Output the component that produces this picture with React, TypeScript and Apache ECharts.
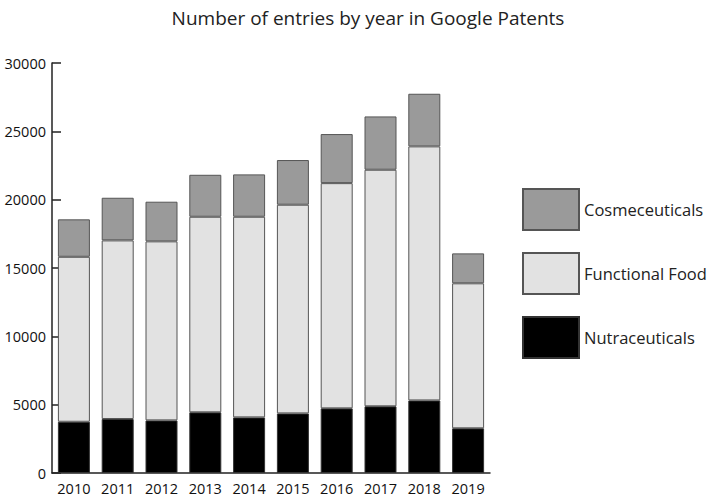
import React, { useEffect, useRef } from "react";
import * as echarts from "echarts";

const years = ["2010", "2011", "2012", "2013", "2014", "2015", "2016", "2017", "2018", "2019"];
const nutraceuticals = [3750, 3950, 3850, 4440, 4070, 4360, 4730, 4880, 5310, 3270];
const functionalFood = [12070, 13070, 13100, 14310, 14680, 15270, 16480, 17310, 18590, 10610];
const cosmeceuticals = [2740, 3120, 2900, 3070, 3100, 3270, 3590, 3900, 3850, 2190];

const FONT = "'Open Sans', sans-serif";

export default function App() {
  const ref = useRef<HTMLDivElement>(null);
  useEffect(() => {
    if (!ref.current) return;
    const chart = echarts.init(ref.current, null, { renderer: "svg" });
    const barBase = { type: "bar", stack: "total", barWidth: 32 };
    chart.setOption({
      animation: false,
      backgroundColor: "#ffffff",
      title: {
        text: "Number of entries by year in Google Patents",
        left: 363,
        textAlign: "center",
        top: 3,
        textStyle: { fontFamily: FONT, fontSize: 19, fontWeight: "normal", color: "#222" },
      },
      legend: {
        orient: "vertical",
        left: 522,
        top: 188,
        padding: 0,
        itemWidth: 56,
        itemHeight: 41,
        itemGap: 21,
        icon: "rect",
        data: ["Cosmeceuticals", "Functional Food", "Nutraceuticals"],
        textStyle: { fontFamily: FONT, fontSize: 16.5, color: "#222" },
      },
      grid: { left: 52, right: 218, top: 63, bottom: 27 },
      xAxis: {
        type: "category",
        data: years,
        axisLine: { lineStyle: { color: "#222", width: 1.5 } },
        axisTick: { inside: true, length: 10, lineStyle: { color: "#222", width: 1.5 } },
        axisLabel: { fontFamily: FONT, fontSize: 14.5, color: "#111", margin: 8 },
      },
      yAxis: {
        type: "value",
        min: 0,
        max: 30000,
        interval: 5000,
        splitLine: { show: false },
        axisLine: { show: true, lineStyle: { color: "#222", width: 1.5 } },
        axisTick: { show: true, inside: true, length: 9, lineStyle: { color: "#222", width: 1.5 } },
        axisLabel: {
          fontFamily: FONT,
          fontSize: 14.5,
          color: "#111",
          margin: 6,
          formatter: (v: number) => String(v),
        },
      },
      series: [
        {
          ...barBase,
          name: "Nutraceuticals",
          data: nutraceuticals,
          itemStyle: { color: "#000000", borderColor: "#333", borderWidth: 1 },
        },
        {
          ...barBase,
          name: "Functional Food",
          data: functionalFood,
          itemStyle: { color: "#e2e2e2", borderColor: "#555", borderWidth: 1 },
        },
        {
          ...barBase,
          name: "Cosmeceuticals",
          data: cosmeceuticals,
          itemStyle: { color: "#9a9a9a", borderColor: "#555", borderWidth: 1 },
        },
      ],
    });
    return () => chart.dispose();
  }, []);
  return <div ref={ref} style={{ width: 708, height: 500, position: "absolute", left: 0, top: 0 }} />;
}
